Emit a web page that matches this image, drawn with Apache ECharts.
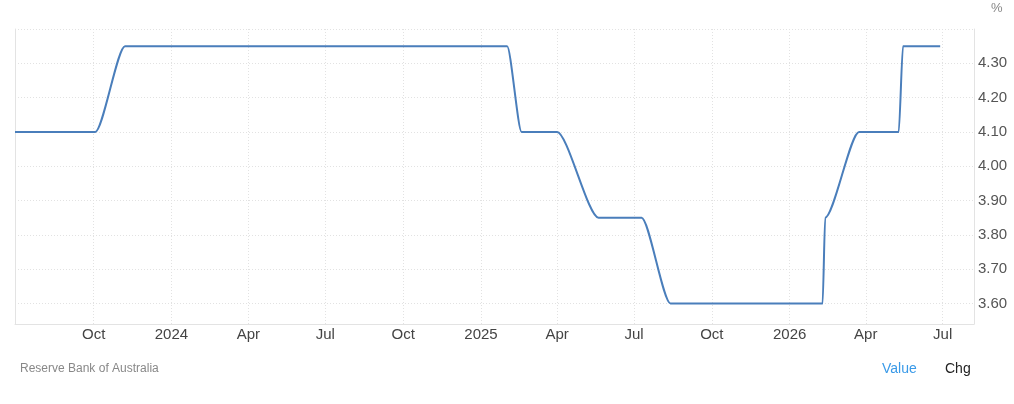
<!DOCTYPE html>
<html>
<head>
<meta charset="utf-8">
<script src="https://cdn.jsdelivr.net/npm/echarts@6/dist/echarts.min.js"></script>
<style>
  html, body { margin: 0; padding: 0; background: #fff; }
  #chart { width: 1014px; height: 404px; }
</style>
</head>
<body>
<div id="chart"></div>
<script>
// ---- data ----
const rateDates = ['2023-06-30','2023-10-03','2023-11-07','2025-02-01','2025-02-18','2025-04-01','2025-05-20','2025-07-10','2025-08-13','2026-02-09','2026-02-12','2026-03-24','2026-05-10','2026-05-15','2026-06-28'];
const rateValues = [4.10, 4.10, 4.35, 4.35, 4.10, 4.10, 3.85, 3.85, 3.60, 3.60, 3.85, 4.10, 4.10, 4.35, 4.35];

const xTickDates = ['2023-10-01','2024-01-01','2024-04-01','2024-07-01','2024-10-01','2025-01-01','2025-04-01','2025-07-01','2025-10-01','2026-01-01','2026-04-01','2026-07-01'];
const xTickLabels = ['Oct','2024','Apr','Jul','Oct','2025','Apr','Jul','Oct','2026','Apr','Jul'];

const xMin = '2023-06-30';
const xMax = '2026-08-07';
const yMin = 3.54;
const yMax = 4.40;

const sourceText = 'Reserve Bank of Australia';
const tabLabels = ['Value', 'Chg'];

// ---- build ----
const FONT = 'Arial, "Liberation Sans", sans-serif';
const ts = d => +echarts.time.parse(d);
const tickTs = xTickDates.map(ts);
const seriesData = rateDates.map((d, i) => [ts(d), rateValues[i]]);

function tickLabel(v) {
  for (let i = 0; i < tickTs.length; i++) {
    if (Math.abs(tickTs[i] - v) < 3600 * 1000 * 13) return xTickLabels[i];
  }
  return '';
}

const chart = echarts.init(document.getElementById('chart'), null, { renderer: 'canvas' });
chart.setOption({
  animation: false,
  backgroundColor: '#ffffff',
  grid: { left: 15, right: 40, top: 29, bottom: 80, containLabel: false },
  xAxis: {
    type: 'value',
    min: ts(xMin),
    max: ts(xMax),
    axisLine: { show: true, onZero: false, lineStyle: { color: '#e3e3e3', width: 1 } },
    axisTick: { show: false, customValues: tickTs },
    axisLabel: {
      customValues: tickTs,
      formatter: tickLabel,
      color: '#444',
      fontFamily: FONT,
      fontSize: 15,
      margin: 3,
      hideOverlap: false
    },
    splitLine: { show: true, lineStyle: { color: '#e2e2e2', type: [1, 2], width: 1 } }
  },
  yAxis: [{
    type: 'value',
    position: 'right',
    min: yMin,
    max: yMax,
    splitNumber: 9,
    name: '%',
    nameLocation: 'end',
    nameGap: 14,
    nameTextStyle: { color: '#888', fontFamily: FONT, fontSize: 13, align: 'left', padding: [0, 0, 0, 17] },
    axisLine: { show: true, onZero: false, lineStyle: { color: '#e3e3e3', width: 1 } },
    axisTick: { show: false },
    axisLabel: {
      color: '#555',
      fontFamily: FONT,
      fontSize: 15,
      margin: 4,
      showMinLabel: false,
      showMaxLabel: false,
      padding: [0, 0, 3, 0],
      formatter: v => v.toFixed(2)
    },
    splitLine: { show: true, lineStyle: { color: '#e2e2e2', type: [1, 2], width: 1 } }
  }, {
    type: 'value',
    position: 'left',
    min: 0,
    max: 1,
    axisLine: { show: true, onZero: false, lineStyle: { color: '#e3e3e3', width: 1 } },
    axisTick: { show: false },
    axisLabel: { show: false },
    splitLine: { show: false }
  }],
  series: [{
    type: 'line',
    yAxisIndex: 0,
    data: seriesData,
    showSymbol: false,
    smooth: 0.25,
    smoothMonotone: 'x',
    lineStyle: { color: '#4a7ebb', width: 2 },
    itemStyle: { color: '#4a7ebb' }
  }],
  graphic: [
    { type: 'text', left: 20, top: 363, style: { text: sourceText, font: '12px ' + FONT, fill: '#888' } },
    { type: 'text', left: 882, top: 362, style: { text: tabLabels[0], font: '14px ' + FONT, fill: '#3a9ae8' } },
    { type: 'text', left: 945, top: 362, style: { text: tabLabels[1], font: '14px ' + FONT, fill: '#222' } }
  ]
});
</script>
</body>
</html>
